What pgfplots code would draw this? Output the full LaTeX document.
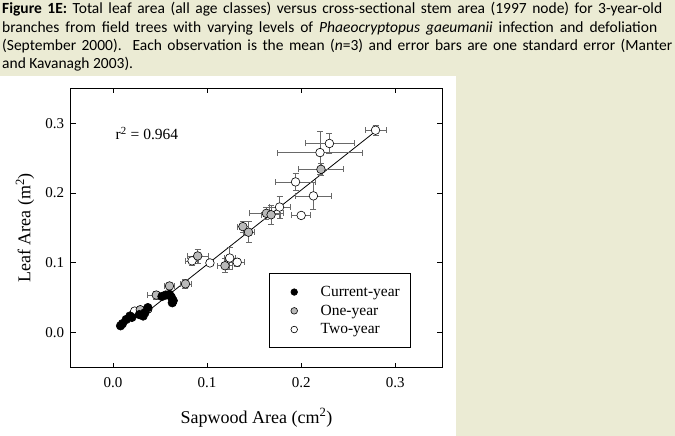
\documentclass[border=0pt]{standalone}
\usepackage{pgfplots}
\usepackage{pgfplotstable}
\pgfplotsset{compat=1.18}
\usepackage{fontspec}
\setmainfont{Liberation Serif}
\newfontfamily\capfont{Carlito}
\definecolor{bgbeige}{RGB}{235,235,212}
\definecolor{markgrey}{RGB}{185,185,185}
\definecolor{errgrey}{RGB}{105,105,105}

\pgfplotstableread{
x y
0.008 0.010
0.010 0.013
0.014 0.019
0.018 0.024
0.020 0.022
0.028 0.026
0.032 0.024
0.034 0.029
0.037 0.036
0.052 0.052
0.056 0.054
0.060 0.055
0.062 0.051
0.064 0.046
0.063 0.043
}\currentyear

\pgfplotstableread{
x y ex ey
0.029 0.033 0.005 0.005
0.046 0.054 0.010 0.006
0.060 0.067 0.005 0.004
0.077 0.070 0.006 0.006
0.090 0.110 0.011 0.010
0.119 0.096 0.008 0.010
0.138 0.152 0.006 0.008
0.144 0.144 0.006 0.015
0.163 0.171 0.018 0.008
0.168 0.169 0.010 0.014
0.221 0.234 0.024 0.008
}\oneyear

\pgfplotstableread{
x y ex ey
0.023 0.031 0.004 0.004
0.037 0.034 0.004 0.004
0.084 0.103 0.007 0.007
0.103 0.100 0.004 0.004
0.124 0.107 0.006 0.016
0.132 0.101 0.008 0.006
0.177 0.180 0.011 0.016
0.200 0.168 0.010 0.004
0.213 0.196 0.019 0.019
0.194 0.216 0.021 0.012
0.220 0.258 0.045 0.031
0.230 0.271 0.026 0.014
0.279 0.290 0.011 0.007
}\twoyear

\begin{document}
\begin{tikzpicture}
\useasboundingbox (0pt,0pt) rectangle (675pt,436pt);
\fill[bgbeige] (0pt,0pt) rectangle (675pt,436pt);
\fill[white] (0pt,0pt) rectangle (456pt,360pt);
\begin{scope}[every node/.style={anchor=base west, inner sep=0pt, font=\capfont\fontsize{15.5}{18}\selectfont}]
\node at (2pt,422pt) {\makebox[660pt][s]{\textbf{Figure 1E:} Total leaf area (all age classes) versus cross-sectional stem area (1997 node) for 3-year-old}};
\node at (2pt,403.7pt) {\makebox[655pt][s]{branches from field trees with varying levels of \textit{Phaeocryptopus gaeumanii} infection and defoliation}};
\node at (2pt,385.4pt) {\makebox[670pt][s]{(September 2000).\ \ Each observation is the mean (\textit{n}=3) and error bars are one standard error (Manter}};
\node at (2pt,367.1pt) {and Kavanagh 2003).};
\end{scope}
\begin{axis}[
  at={(70.7pt,68.3pt)}, anchor=south west,
  scale only axis, width=371.6pt, height=279.4pt,
  xmin=-0.045, xmax=0.35, ymin=-0.05, ymax=0.35,
  xtick={0,0.1,0.2,0.3}, ytick={0,0.1,0.2,0.3},
  scaled ticks=false,
  /pgf/number format/assume math mode=true,
  /pgf/number format/fixed,
  /pgf/number format/fixed zerofill,
  /pgf/number format/precision=1,
  tick label style={font=\fontsize{15}{18}\selectfont},
  xticklabel style={yshift=-6pt},
  yticklabel style={xshift=-3pt},
  tick align=inside, major tick length=5pt,
  axis line style={line width=0.9pt},
  tick style={line width=0.9pt, black},
  label style={font=\fontsize{18}{21}\selectfont},
  xlabel={Sapwood Area (cm\textsuperscript{2})},
  ylabel={Leaf Area (m\textsuperscript{2})},
  xlabel style={at={(axis description cs:0.5,-0.179)}, anchor=center},
  ylabel style={at={(axis description cs:-0.123,0.5)}, anchor=center},
  reverse legend,
  legend style={at={(0.5345,0.0694)}, anchor=south west, draw=black, line width=0.9pt,
    inner xsep=9pt, inner ysep=10.5pt, row sep=3pt,
    font=\fontsize{15.5}{18}\selectfont,
    cells={anchor=west}},
  legend image code/.code={\path (-15pt,0pt) (24pt,0pt); \draw[#1, mark size=3.3pt] plot coordinates {(0pt,0pt)};},
]
\addplot[black, line width=0.8pt, forget plot] coordinates {(0.03,0.0233) (0.277,0.2863)};
\addplot[only marks, mark=*, mark size=4.3pt, mark options={draw=black, fill=white, line width=0.6pt},
  error bars/.cd, x dir=both, x explicit, y dir=both, y explicit,
  error bar style={errgrey, line width=0.6pt},
  error mark options={errgrey, mark size=3pt, line width=0.6pt, rotate=90}]
  table[x=x, y=y, x error=ex, y error=ey] {\twoyear};
\addplot[only marks, mark=*, mark size=4.3pt, mark options={draw=black, fill=markgrey, line width=0.6pt},
  error bars/.cd, x dir=both, x explicit, y dir=both, y explicit,
  error bar style={errgrey, line width=0.6pt},
  error mark options={errgrey, mark size=3pt, line width=0.6pt, rotate=90}]
  table[x=x, y=y, x error=ex, y error=ey] {\oneyear};
\addplot[only marks, mark=*, mark size=4.3pt, mark options={draw=black, fill=black, line width=0.6pt}]
  table[x=x, y=y] {\currentyear};
\node[anchor=west, inner sep=0pt, font=\fontsize{15.5}{18}\selectfont] at (axis cs:0.0026,0.2857) {r\textsuperscript{2} = 0.964};
\legend{Two-year, One-year, Current-year}
\end{axis}
\end{tikzpicture}
\end{document}
